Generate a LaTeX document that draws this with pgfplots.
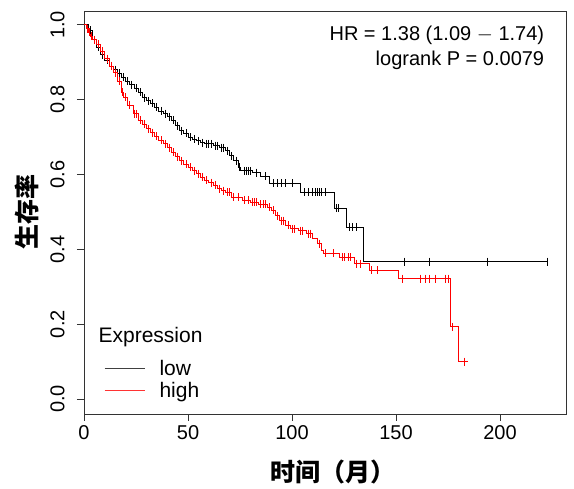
\documentclass[border=0pt]{standalone}
\usepackage{pgfplots}
\pgfplotsset{compat=1.18}
\usepackage{fontspec}
\setmainfont{Liberation Sans}
\newfontfamily\cjk{Noto Sans CJK SC}
\begin{document}
\begin{tikzpicture}
\begin{axis}[
  scale only axis,
  width=482pt, height=403pt,
  xmin=0, xmax=231.7, ymin=-0.04, ymax=1.037,
  axis line style={black!80, line width=0.8pt},
  tick align=outside, major tick length=7pt,
  xtick pos=bottom, ytick pos=left,
  tick style={black!80, line width=0.8pt},
  xtick={0,50,100,150,200},
  ytick={0,0.2,0.4,0.6,0.8,1.0},
  /pgf/number format/assume math mode=true,
  yticklabel style={/pgf/number format/fixed, /pgf/number format/fixed zerofill, /pgf/number format/precision=1, rotate=90, anchor=south, font=\fontsize{20}{22}\selectfont},
  yticklabel shift=9pt,
  xticklabel style={font=\fontsize{20}{22}\selectfont},
  xticklabel shift=1pt,
  xlabel={\cjk\bfseries 时间（月）},
  ylabel={\cjk\bfseries 生存率},
  xlabel style={font=\fontsize{25}{28}\selectfont, yshift=-13pt, xshift=8pt},
  ylabel style={font=\fontsize{25}{28}\selectfont},
  ylabel shift=5pt,
  legend style={draw=none, fill=none, at={(axis description cs:0.035,0.085)}, anchor=west, font=\fontsize{21}{23}\selectfont, row sep=1pt},
  legend cell align=left,
  legend image code/.code={\draw[line width=0.9pt] (0pt,0pt) -- (40pt,0pt); \path[draw=none, fill=none] (0pt,-1pt) rectangle (53pt,1pt);},
]
% low (black) curve
\addplot[black, line width=0.8pt, const plot, forget plot] coordinates {
(0,1.0) (2,0.985) (4,0.96) (6,0.94) (8,0.92) (10,0.905) (12,0.89) (14,0.88) (16,0.87) (18,0.86)
(20,0.85) (22,0.84) (24,0.83) (26,0.82) (28,0.805) (30,0.797) (32,0.79) (34,0.78) (36,0.77) (38,0.763)
(40,0.755) (42,0.745) (44,0.73) (46,0.717) (48,0.71) (50,0.70) (52,0.695) (54,0.69) (56,0.685) (58,0.682)
(62,0.677) (65,0.672) (68,0.664) (70,0.65) (72,0.637) (74,0.62) (75,0.61) (81,0.605) (85,0.595) (89,0.576)
(104,0.553) (120.5,0.51) (126.3,0.46) (134.3,0.367) (222.5,0.367)
};
\addplot[black, only marks, mark=|, mark size=4pt, mark options={line width=0.7pt}, forget plot] coordinates {
(3,0.985) (5,0.96) (7,0.94) (9,0.92) (11,0.905) (13,0.89) (15,0.88) (17,0.87) (19,0.86) (21,0.85)
(23,0.84) (25,0.83) (27,0.82) (29,0.805) (31,0.797) (33,0.79) (35,0.78) (37,0.77) (39,0.763) (41,0.755)
(43,0.745) (45,0.73) (47,0.717) (49,0.71) (51,0.70) (53,0.695) (55,0.69) (57,0.685) (59,0.682) (60,0.682)
(61,0.682) (63,0.677) (64,0.677) (66,0.672) (67,0.672) (69,0.664) (71,0.65) (73,0.637) (74.5,0.62) (77,0.61)
(78,0.61) (79,0.61) (80,0.61) (83,0.605) (87,0.595) (91,0.576) (93,0.576) (95,0.576) (97,0.576) (100,0.576)
(106,0.553) (108,0.553) (110,0.553) (111,0.553) (112,0.553) (113,0.553) (114,0.553) (116,0.553)
(121.5,0.51) (122.5,0.51) (127.5,0.46) (129,0.46) (131,0.46) (154,0.367) (166,0.367) (194,0.367) (222.5,0.367)
};
% high (red) curve
\addplot[red, line width=0.8pt, const plot, forget plot] coordinates {
(0,1.0) (1,0.99) (2,0.98) (3,0.97) (4,0.96) (6,0.948) (8,0.93) (10,0.91) (12,0.89) (14,0.872)
(16,0.85) (18,0.82) (19,0.806) (21,0.785) (23.7,0.762) (26,0.745) (28,0.735) (30,0.722) (32,0.712) (34,0.702)
(36,0.692) (38,0.682) (40,0.672) (42,0.66) (44,0.648) (46,0.637) (48,0.628) (50,0.62) (52,0.61) (54,0.602)
(56,0.593) (58,0.585) (60,0.578) (62,0.572) (64,0.562) (66,0.557) (68,0.552) (71,0.54) (76,0.532) (80,0.526)
(84,0.52) (88,0.513) (90,0.504) (92,0.49) (94,0.477) (97,0.465) (99,0.455) (103,0.45) (107,0.442) (110,0.43)
(112,0.415) (114,0.397) (115,0.389) (123,0.379) (130,0.362) (137,0.344) (151,0.322) (176,0.193) (180,0.1) (184.6,0.1)
};
\addplot[red, only marks, mark=|, mark size=4pt, mark options={line width=0.7pt}, forget plot] coordinates {
(1.5,0.99) (2.5,0.98) (3.5,0.97) (5,0.96) (7,0.948) (9,0.93) (11,0.91) (13,0.89) (15,0.872) (17,0.85)
(18.5,0.82) (20,0.806) (22,0.785) (24,0.762) (25,0.762) (27,0.745) (29,0.735) (31,0.722) (33,0.712) (35,0.702)
(37,0.692) (39,0.682) (41,0.672) (43,0.66) (45,0.648) (47,0.637) (49,0.628) (51,0.62) (53,0.61) (55,0.602)
(57,0.593) (59,0.585) (61,0.578) (63,0.572) (65,0.562) (67,0.557) (69,0.552) (70,0.552) (72,0.54) (74,0.54)
(77,0.532) (79,0.532) (81,0.526) (82,0.526) (83,0.526) (85,0.52) (86,0.52) (87,0.52) (89,0.513) (91,0.504)
(93,0.49) (95,0.477) (96,0.477) (98,0.465) (100,0.455) (101,0.455) (104,0.45) (105,0.45) (108,0.442) (109,0.442)
(113,0.415) (116,0.389) (120,0.389) (124,0.379) (125,0.379) (127,0.379) (128,0.379) (131,0.362) (133,0.362) (138,0.344)
(141,0.344) (153,0.322) (161.5,0.322) (164,0.322) (166,0.322) (168.8,0.322) (173.6,0.322) (175,0.322) (177,0.193) (183,0.1)
};
\addlegendimage{black!75}
\addlegendentry{low}
\addlegendimage{red!80!white}
\addlegendentry{high}
\node[anchor=west, font=\fontsize{21}{23}\selectfont] at (axis description cs:0.023,0.191) {Expression};
\node[anchor=north east, align=right, font=\fontsize{20}{25}\selectfont] at (axis description cs:0.962,0.972) {HR = 1.38 (1.09 $-$ 1.74)\\logrank P = 0.0079};
\end{axis}
\pgfresetboundingbox
\path[use as bounding box] ([shift={(-84pt,-75pt)}]current axis.south west) rectangle ([shift={(8pt,11pt)}]current axis.north east);
\end{tikzpicture}
\end{document}
